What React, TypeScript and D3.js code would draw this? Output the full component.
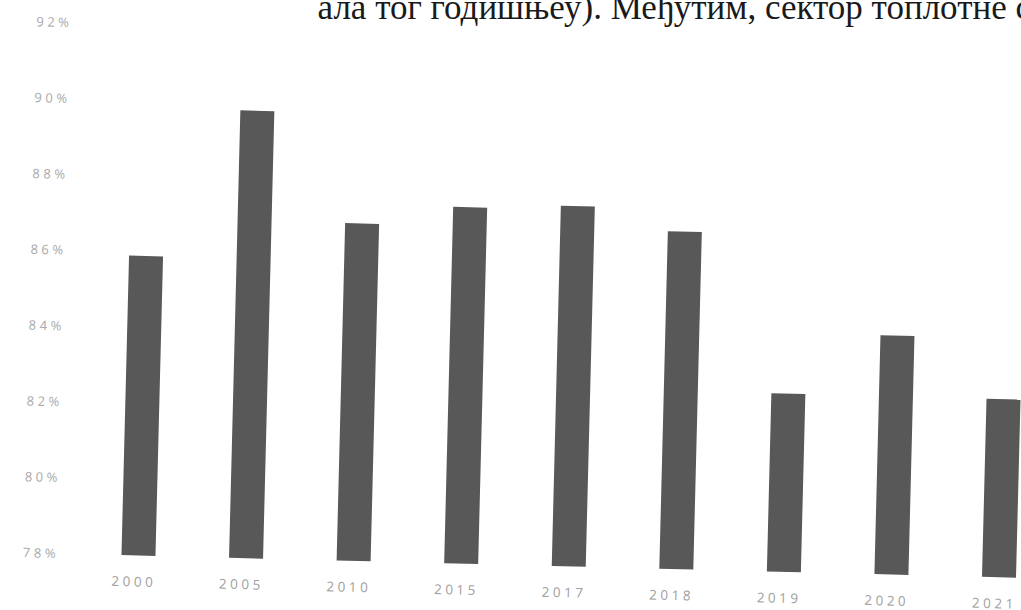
import * as d3 from "d3";

// Годишње вредности (%), очитано са слике
const years = ["2000", "2005", "2010", "2015", "2017", "2018", "2019", "2020", "2021"];
const shares = [85.9, 89.8, 86.9, 87.4, 87.5, 86.9, 82.7, 84.3, 82.7];
const yTicks = [78, 80, 82, 84, 86, 88, 90, 92];
const headText = "ала тог годишњеу). Међутим, сектор топлотне с";

const W = 1021;
const H = 610;
const FONT = "'Open Sans', 'DejaVu Sans', sans-serif";

export default function App() {
  const step = 107.6;
  const x = d3.scaleBand<string>()
    .domain(years)
    .range([84.7, 84.7 + step * years.length])
    .paddingInner(0.684)
    .paddingOuter(0.342);

  const y = d3.scaleLinear().domain([78, 92]).range([553, 22]);

  // скенирана страна је мало заротирана
  const tilt = "rotate(1.45, 40, 553)";

  return (
    <svg
      width={W}
      height={H}
      style={{ position: "absolute", left: 0, top: 0, background: "#fff", display: "block" }}
    >
      <text
        x={1031}
        y={19}
        textAnchor="end"
        fontFamily="'Liberation Serif', 'DejaVu Serif', serif"
        fontSize={35}
        fill="#1a1a1a"
      >
        {headText}
      </text>

      <g transform={tilt}>
        {yTicks.map((t) => (
          <text
            key={t}
            x={59}
            y={y(t)}
            dy="0.35em"
            textAnchor="end"
            fontFamily={FONT}
            fontSize={13}
            letterSpacing={3.5}
            fill="#a8a8a8"
          >
            {t}%
          </text>
        ))}

        {years.map((yr, i) => (
          <rect
            key={yr}
            x={x(yr)}
            y={y(shares[i])}
            width={x.bandwidth()}
            height={y(78) - y(shares[i])}
            fill="#585858"
          />
        ))}

        {years.map((yr) => (
          <text
            key={"l" + yr}
            x={(x(yr) ?? 0) + x.bandwidth() / 2 - 4}
            y={y(78) + 31}
            textAnchor="middle"
            fontFamily={FONT}
            fontSize={13.5}
            letterSpacing={3.5}
            fill="#a0a0a0"
          >
            {yr}
          </text>
        ))}
      </g>
    </svg>
  );
}
